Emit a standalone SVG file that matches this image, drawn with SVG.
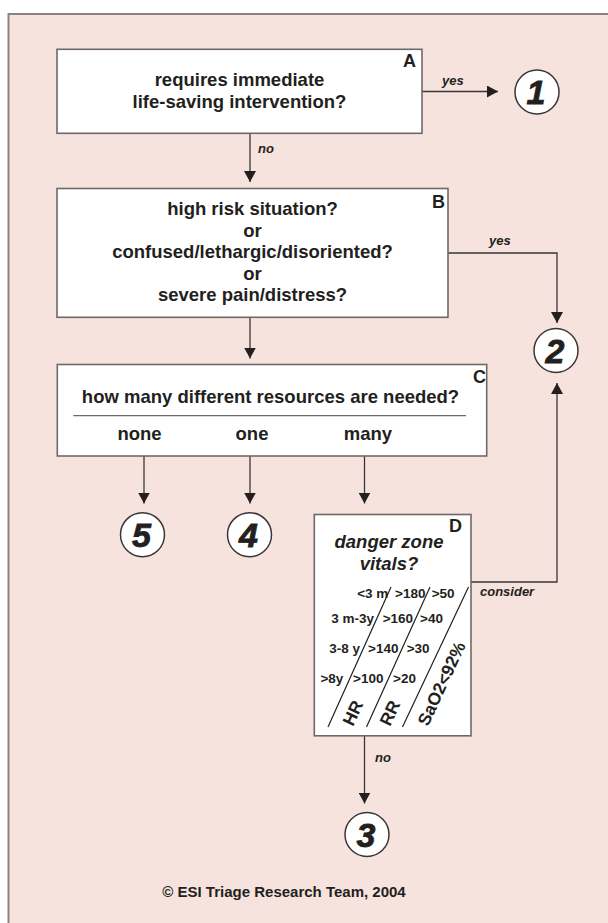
<svg xmlns="http://www.w3.org/2000/svg" width="608" height="923" viewBox="0 0 608 923">
<style>
.box{fill:#fff;stroke:#6e6966;stroke-width:1.6}
.circ{fill:#fff;stroke:#3a3637;stroke-width:1.5}
.con{fill:none;stroke:#3a3637;stroke-width:1.3}
.t{font-family:"Liberation Sans",Arial,sans-serif;font-weight:bold;fill:#231f20}
.main{font-size:18.5px;text-anchor:middle}
.let{font-size:18px}
.lab{font-size:13px;font-style:italic}
.num{font-size:34px;font-style:italic;text-anchor:middle;stroke:#231f20;stroke-width:0.8}
.vit{font-size:13.5px}
.hdr{font-size:17.5px}
</style>
<defs>
<marker id="ah" markerUnits="userSpaceOnUse" markerWidth="12" markerHeight="12" refX="11" refY="6" orient="auto">
<path d="M0,0 L11,6 L0,12 z" fill="#231f20"/>
</marker>
</defs>
<rect x="0" y="0" width="608" height="923" fill="#ffffff"/>
<rect x="8.5" y="14" width="640" height="940" fill="#f7e3de" stroke="#8a8381" stroke-width="2"/>

<g id="connectors">
<line class="con" x1="422" y1="91.5" x2="498" y2="91.5" marker-end="url(#ah)"/>
<text class="t lab" x="442" y="85">yes</text>
<line class="con" x1="250" y1="133.3" x2="250" y2="182" marker-end="url(#ah)"/>
<text class="t lab" x="258" y="153">no</text>
<polyline class="con" points="448,253 557,253 557,323" marker-end="url(#ah)"/>
<text class="t lab" x="489" y="245">yes</text>
<line class="con" x1="250" y1="317.3" x2="250" y2="358.5" marker-end="url(#ah)"/>
<line class="con" x1="144" y1="456" x2="144" y2="503.5" marker-end="url(#ah)"/>
<line class="con" x1="250" y1="456" x2="250" y2="503.5" marker-end="url(#ah)"/>
<line class="con" x1="364.5" y1="456" x2="364.5" y2="503.5" marker-end="url(#ah)"/>
<polyline class="con" points="471,582 557,582 557,383" marker-end="url(#ah)"/>
<text class="t lab" x="480" y="596">consider</text>
<line class="con" x1="364.5" y1="735.8" x2="364.5" y2="803.5" marker-end="url(#ah)"/>
<text class="t lab" x="375" y="762">no</text>
</g>

<g id="nodeA">
<rect class="box" x="57" y="49.3" width="365" height="84"/>
<text class="t let" x="403" y="67">A</text>
<text class="t main" x="239.5" y="85.7">requires immediate</text>
<text class="t main" x="239.5" y="108.3">life-saving intervention?</text>
</g>

<g id="nodeB">
<rect class="box" x="57" y="188.5" width="391" height="128.8"/>
<text class="t let" x="432" y="208">B</text>
<text class="t main" x="252.5" y="215">high risk situation?</text>
<text class="t main" x="252.5" y="236.5">or</text>
<text class="t main" x="252.5" y="258">confused/lethargic/disoriented?</text>
<text class="t main" x="252.5" y="279.5">or</text>
<text class="t main" x="252.5" y="301">severe pain/distress?</text>
</g>

<g id="nodeC">
<rect class="box" x="57.3" y="364.5" width="429.4" height="91.5"/>
<text class="t let" x="473" y="383">C</text>
<text class="t main" x="270.5" y="403.3">how many different resources are needed?</text>
<line x1="73.3" y1="415.7" x2="466" y2="415.7" stroke="#6e6966" stroke-width="1.3"/>
<text class="t main" x="139.5" y="440">none</text>
<text class="t main" x="252" y="440">one</text>
<text class="t main" x="368" y="440">many</text>
</g>

<g id="nodeD">
<rect class="box" x="314.3" y="514.5" width="156.7" height="221.3"/>
<text class="t let" x="449" y="532">D</text>
<text class="t main" x="389" y="547.5" font-style="italic" font-size="18">danger zone</text>
<text class="t main" x="389" y="570" font-style="italic" font-size="18">vitals?</text>
<g stroke="#231f20" stroke-width="1.2">
<line x1="391" y1="587" x2="328" y2="727"/>
<line x1="430" y1="587" x2="366.5" y2="727"/>
<line x1="468.5" y1="587" x2="402.5" y2="727"/>
</g>
<text class="t vit" x="388.3" y="597.5" text-anchor="end">&lt;3 m</text>
<text class="t vit" x="395" y="597.5">&gt;180</text>
<text class="t vit" x="431.7" y="597.5">&gt;50</text>
<text class="t vit" x="374" y="623" text-anchor="end">3 m-3y</text>
<text class="t vit" x="382.7" y="623">&gt;160</text>
<text class="t vit" x="420" y="623">&gt;40</text>
<text class="t vit" x="360" y="653" text-anchor="end">3-8 y</text>
<text class="t vit" x="368" y="653">&gt;140</text>
<text class="t vit" x="406.7" y="653">&gt;30</text>
<text class="t vit" x="343.3" y="682.5" text-anchor="end">&gt;8y</text>
<text class="t vit" x="353" y="682.5">&gt;100</text>
<text class="t vit" x="393" y="682.5">&gt;20</text>
<text class="t hdr" transform="translate(353,727) rotate(-65)">HR</text>
<text class="t hdr" transform="translate(390,727) rotate(-65)">RR</text>
<text class="t hdr" transform="translate(428,727) rotate(-65)">SaO2&lt;92%</text>
</g>

<g id="level1">
<circle class="circ" cx="537" cy="92" r="22"/>
<text class="t num" x="536" y="104">1</text>
</g>
<g id="level2">
<circle class="circ" cx="556" cy="350.5" r="22"/>
<text class="t num" x="555" y="362.5">2</text>
</g>
<g id="level5">
<circle class="circ" cx="142.5" cy="534.7" r="22"/>
<text class="t num" x="141.5" y="546.7">5</text>
</g>
<g id="level4">
<circle class="circ" cx="249.5" cy="534.7" r="22"/>
<text class="t num" x="248.5" y="546.7">4</text>
</g>
<g id="level3">
<circle class="circ" cx="367" cy="834.5" r="22"/>
<text class="t num" x="366" y="846.5">3</text>
</g>

<text class="t" x="284" y="896.7" font-size="15" text-anchor="middle">© ESI Triage Research Team, 2004</text>
</svg>
